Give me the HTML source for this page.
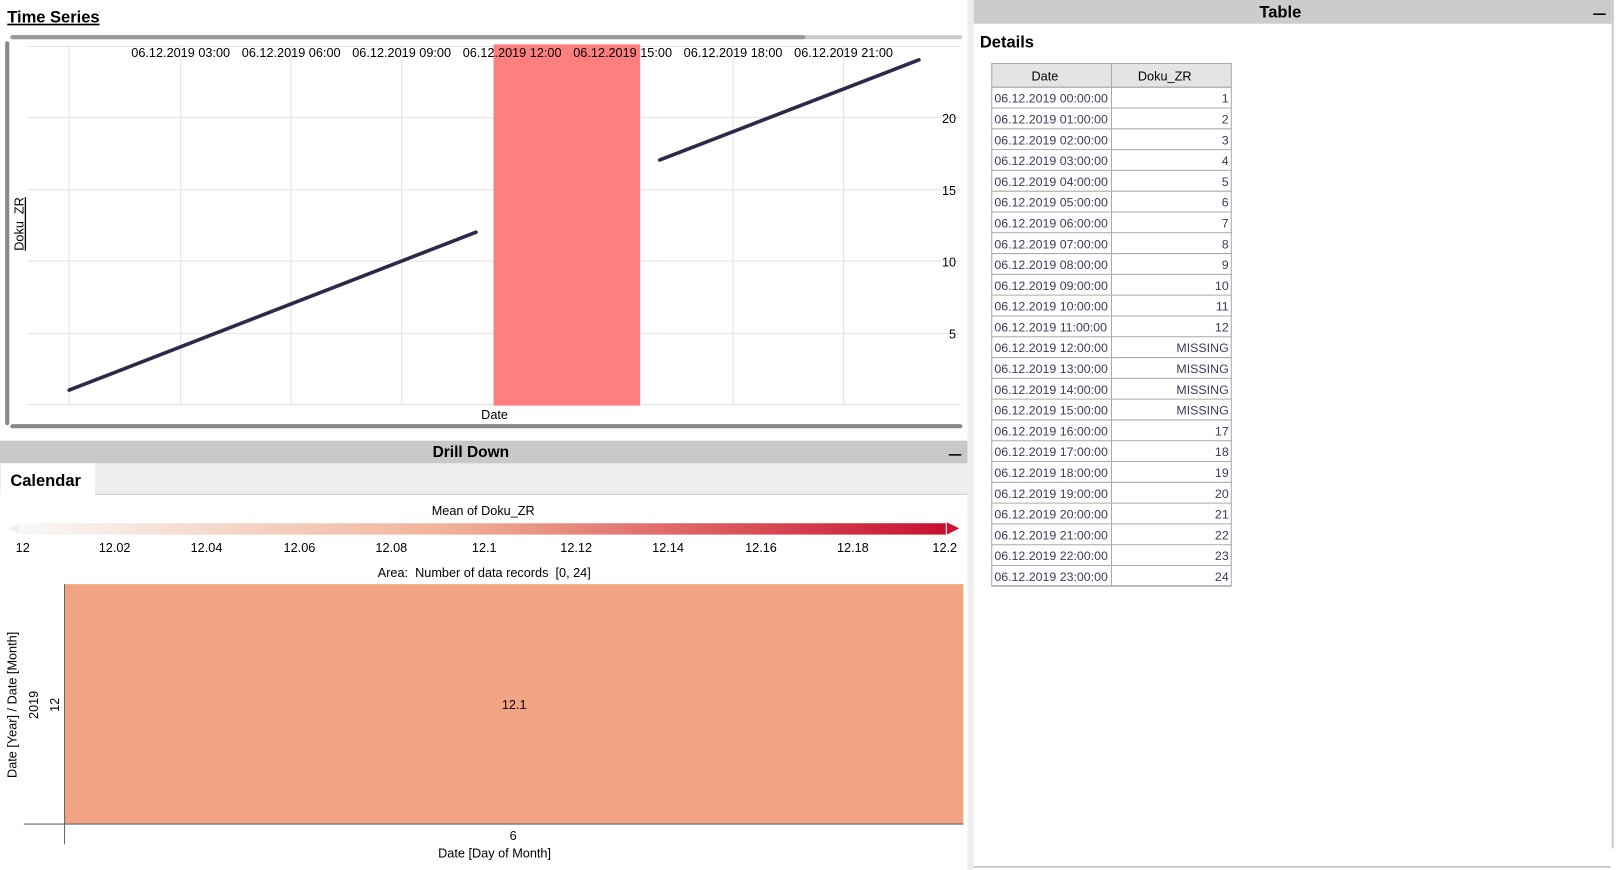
<!DOCTYPE html>
<html><head><meta charset="utf-8"><style>
html,body{margin:0;padding:0;background:#fff;overflow:hidden;width:1619px;height:870px}
#w{width:1568px;height:843px;transform:scale(1.03253,1.03203);transform-origin:0 0}
text{font-family:"Liberation Sans",sans-serif;font-size:12.3px;fill:#000}
.b{font-weight:bold}
.t{font-size:12px;fill:#3a3a5a}
</style></head><body><div id="w">
<svg width="1568" height="843" viewBox="0 0 1568 843" xmlns="http://www.w3.org/2000/svg">
<defs><linearGradient id="g" x1="0" x2="1"><stop offset="0" stop-color="#f8f8f8"/><stop offset="0.45" stop-color="#f2b49a"/><stop offset="1" stop-color="#c8102e"/></linearGradient></defs>
<rect x="937" y="0" width="6" height="843" fill="#eeeeee"/>
<text x="7" y="22" class="b" style="font-size:16px" text-decoration="underline">Time Series</text>
<rect x="10" y="34" width="922" height="4" rx="2" fill="#cccccc"/>
<rect x="10" y="34" width="770" height="4" rx="2" fill="#999"/>
<rect x="5" y="40" width="4" height="372" rx="2" fill="#888"/>
<rect x="10" y="411" width="922" height="4" rx="2" fill="#888"/>
<g stroke="#e2e2e2" stroke-width="1">
<line x1="67" y1="43" x2="67" y2="392"/><line x1="175" y1="43" x2="175" y2="392"/><line x1="282" y1="43" x2="282" y2="392"/><line x1="389" y1="43" x2="389" y2="392"/><line x1="496" y1="43" x2="496" y2="392"/><line x1="603" y1="43" x2="603" y2="392"/><line x1="710" y1="43" x2="710" y2="392"/><line x1="817" y1="43" x2="817" y2="392"/>
<line x1="27" y1="45" x2="930" y2="45"/><line x1="27" y1="114" x2="930" y2="114"/><line x1="27" y1="184" x2="930" y2="184"/><line x1="27" y1="253" x2="930" y2="253"/><line x1="27" y1="323" x2="930" y2="323"/><line x1="27" y1="392" x2="930" y2="392"/>
</g>
<rect x="478" y="43" width="142" height="350" fill="#ff7f7f"/>
<g text-anchor="middle">
<text x="175" y="55">06.12.2019 03:00</text><text x="282" y="55">06.12.2019 06:00</text><text x="389" y="55">06.12.2019 09:00</text><text x="496" y="55">06.12.2019 12:00</text><text x="603" y="55">06.12.2019 15:00</text><text x="710" y="55">06.12.2019 18:00</text><text x="817" y="55">06.12.2019 21:00</text>
<text x="479" y="406">Date</text>
</g>
<g text-anchor="end"><text x="926" y="119">20</text><text x="926" y="189">15</text><text x="926" y="258">10</text><text x="926" y="328">5</text></g>
<text transform="translate(23,217) rotate(-90)" text-anchor="middle" text-decoration="underline">Doku_ZR</text>
<g stroke="#2a2a4a" stroke-width="3.5" stroke-linecap="round"><line x1="67" y1="378" x2="461" y2="225"/><line x1="639" y1="155" x2="890" y2="58"/></g>
<rect x="0" y="427" width="937" height="22" fill="#c8c8c8"/>
<text x="456" y="443" class="b" style="font-size:15px" text-anchor="middle">Drill Down</text>
<rect x="919" y="440" width="12" height="1.5" fill="#000"/>
<rect x="0" y="449" width="937" height="30" fill="#eeeeee"/>
<rect x="1" y="449" width="91" height="30" fill="#fff"/>
<line x1="92" y1="479" x2="937" y2="479" stroke="#d0d0d0"/>
<text x="10" y="471" class="b" style="font-size:16px">Calendar</text>
<text x="468" y="499" text-anchor="middle">Mean of Doku_ZR</text>
<rect x="20" y="507" width="896" height="11" fill="url(#g)"/>
<polygon points="8,512 19,507 19,518" fill="#f0f0f0"/>
<polygon points="917,506 929,512 917,518" fill="#d0102e"/>
<g text-anchor="middle">
<text x="22" y="535">12</text><text x="111" y="535">12.02</text><text x="200" y="535">12.04</text><text x="290" y="535">12.06</text><text x="379" y="535">12.08</text><text x="469" y="535">12.1</text><text x="558" y="535">12.12</text><text x="647" y="535">12.14</text><text x="737" y="535">12.16</text><text x="826" y="535">12.18</text><text x="915" y="535">12.2</text>
<text x="469" y="559" xml:space="preserve">Area:  Number of data records  [0, 24]</text>
</g>
<rect x="62" y="566" width="871" height="232" fill="#f2a382"/>
<text x="498" y="687" text-anchor="middle">12.1</text>
<line x1="23" y1="798.5" x2="933" y2="798.5" stroke="#666"/>
<line x1="62.5" y1="566" x2="62.5" y2="818" stroke="#666"/>
<text x="497" y="814" text-anchor="middle">6</text>
<text x="479" y="831" text-anchor="middle">Date [Day of Month]</text>
<text transform="translate(16,683) rotate(-90)" text-anchor="middle">Date [Year] / Date [Month]</text>
<text transform="translate(37,683) rotate(-90)" text-anchor="middle">2019</text>
<text transform="translate(57,683) rotate(-90)" text-anchor="middle">12</text>
<rect x="943" y="0" width="618" height="23" fill="#cccccc"/>
<text x="1240" y="17" class="b" style="font-size:16px" text-anchor="middle">Table</text>
<rect x="1543" y="13" width="12" height="1.5" fill="#000"/>
<line x1="1562" y1="0" x2="1562" y2="822" stroke="#ccc" stroke-width="2"/>
<line x1="943" y1="840" x2="1560" y2="840" stroke="#ccc" stroke-width="2"/>
<text x="949" y="46" class="b" style="font-size:16px">Details</text>
<rect x="960.5" y="61.5" width="232" height="23" fill="#e4e4e4" stroke="#aaa"/>
<line x1="1076.5" y1="61" x2="1076.5" y2="568" stroke="#aaa"/>
<text x="1012" y="78" text-anchor="middle">Date</text><text x="1128" y="78" text-anchor="middle">Doku_ZR</text>
<rect x="960.5" y="84.5" width="232" height="483" fill="none" stroke="#aaa"/>
<g id="rows"></g>
</svg></div>
<script>
var g=document.getElementById('rows'),s='';
for(var i=0;i<24;i++){var y=84.5+i*20.15;var v=(i>=12&&i<=15)?'MISSING':(i+1);var h=(i<10?'0':'')+i;
s+='<line x1="960" y1="'+(y+20.15)+'" x2="1193" y2="'+(y+20.15)+'" stroke="#aaa"/>';
s+='<text class="t" x="963" y="'+(y+15)+'">06.12.2019 '+h+':00:00</text>';
s+='<text class="t" x="1190" y="'+(y+15)+'" text-anchor="end">'+v+'</text>';}
g.innerHTML=s;
</script>
</body></html>
